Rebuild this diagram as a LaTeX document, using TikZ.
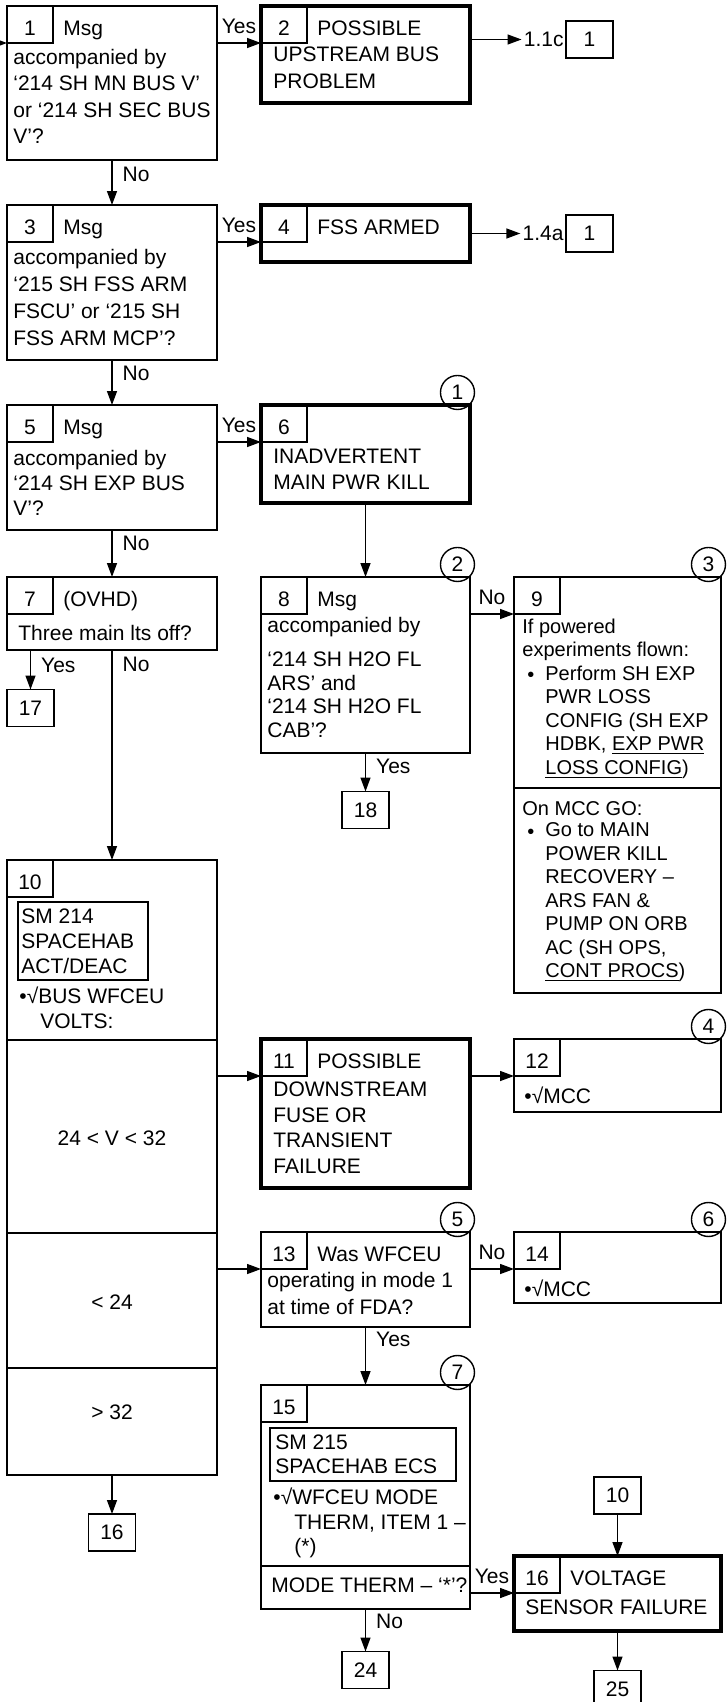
\documentclass[tikz,border=0pt]{standalone}
\usepackage{fontspec}
\setmainfont{Liberation Sans}
\usetikzlibrary{positioning, calc, arrows.meta}
\newcommand{\fsz}[1]{\fontsize{10.5pt}{#1}\selectfont}
\newcommand{\tstrut}{\rule{0pt}{8pt}}

\begin{document}
\begin{tikzpicture}[x=0.5pt, y=-0.5pt,
    every node/.style={font=\fsz{13.5pt}},
    box/.style={draw, line width=0.9pt, anchor=north west, inner sep=0, outer sep=0},
    thickbox/.style={box, line width=2.2pt},
    numbox/.style={box, minimum width=23pt, minimum height=18.5pt, text height=11pt, text depth=0pt},
    refbox/.style={draw, line width=0.9pt, inner sep=0, outer sep=0, minimum width=23.5pt, minimum height=18.5pt},
    circ/.style={circle, draw, line width=0.7pt, inner sep=0, minimum size=17pt, anchor=south east},
    txt/.style={anchor=north west, inner sep=0, align=left, execute at begin node=\tstrut},
    lbl/.style={inner sep=0},
    divider/.style={line width=0.9pt},
    arr/.style={line width=0.7pt, -{Triangle[length=7pt, width=5pt]}}]
\useasboundingbox (0,0) rectangle (727,1702);

% left column
\node[box, minimum width=105pt, minimum height=77pt] (b1) at (7,6) {};
\node[numbox] (n1) at (b1.north west) {1};
\node[lbl, anchor=base west] at ([xshift=5pt]n1.base east) {Msg};
\node[txt, font=\fsz{13.3pt}] at (13,48.5) {accompanied by\\‘214 SH MN BUS V’\\or ‘214 SH SEC BUS\\V’?};

\node[box, minimum width=105pt, minimum height=77.5pt] (b3) at (7,205) {};
\node[numbox] (n3) at (b3.north west) {3};
\node[lbl, anchor=base west] at ([xshift=5pt]n3.base east) {Msg};
\node[txt] at (13,248.5) {accompanied by\\‘215 SH FSS ARM\\FSCU’ or ‘215 SH\\FSS ARM MCP’?};

\node[box, minimum width=105pt, minimum height=62.5pt] (b5) at (7,405) {};
\node[numbox] (n5) at (b5.north west) {5};
\node[lbl, anchor=base west] at ([xshift=5pt]n5.base east) {Msg};
\node[txt, font=\fsz{12.5pt}] at (13,449.5) {accompanied by\\‘214 SH EXP BUS\\V’?};

\node[box, minimum width=105pt, minimum height=36.5pt] (b7) at (7,577) {};
\node[numbox] (n7) at (b7.north west) {7};
\node[lbl, anchor=base west] at ([xshift=5pt]n7.base east) {(OVHD)};
\node[txt] at (18,624.5) {Three main lts off?};

\node[refbox] (r17) at (30.5,708) {17};

\node[box, minimum width=105pt, minimum height=307.5pt] (b10) at (7,860) {};
\node[numbox] (n10) at (b10.north west) {10};
\node[box, minimum width=65pt, minimum height=39pt] (sm214) at (18,902) {};
\node[txt, font=\fsz{12.5pt}] at (21,908.5) {SM 214\\SPACEHAB\\ACT/DEAC};
\node[txt, font=\fsz{12.5pt}] at (19,986.5) {•√BUS WFCEU\\\hspace*{10.5pt}VOLTS:};
\draw[divider] (7,1040) -- (217,1040);
\draw[divider] (7,1233) -- (217,1233);
\draw[divider] (7,1368) -- (217,1368);
\node[lbl] at (112,1138) {24 < V < 32};
\node[lbl] at (112,1302) {< 24};
\node[lbl] at (112,1412) {> 32};

\node[refbox] (r16) at (112,1532.5) {16};

% middle column
\node[thickbox, minimum width=104.5pt, minimum height=48.5pt] (b2) at (261,6) {};
\node[numbox] (n2) at (b2.north west) {2};
\node[lbl, anchor=base west] at ([xshift=5pt]n2.base east) {POSSIBLE};
\node[txt] at (273,46.5) {UPSTREAM BUS\\PROBLEM};

\node[thickbox, minimum width=104.5pt, minimum height=28.5pt] (b4) at (261,205) {};
\node[numbox] (n4) at (b4.north west) {4};
\node[lbl, anchor=base west] at ([xshift=5pt]n4.base east) {FSS ARMED};

\node[thickbox, minimum width=104.5pt, minimum height=49pt] (b6) at (261,405) {};
\node[numbox] (n6) at (b6.north west) {6};
\node[txt, font=\fsz{13pt}] at (273,448.5) {INADVERTENT\\MAIN PWR KILL};
\node[circ] (c1) at (b6.north east) {1};

\node[box, minimum width=104.5pt, minimum height=88pt] (b8) at (261,577) {};
\node[numbox] (n8) at (b8.north west) {8};
\node[lbl, anchor=base west] at ([xshift=5pt]n8.base east) {Msg};
\node[txt] at (267,616.5) {accompanied by};
\node[txt, font=\fsz{11.75pt}] at (267,651.5) {‘214 SH H2O FL\\ARS’ and\\‘214 SH H2O FL\\CAB’?};
\node[circ] (c2) at (b8.north east) {2};

\node[refbox] (r18) at (365.5,810) {18};

\node[thickbox, minimum width=104.5pt, minimum height=74.5pt] (b11) at (261,1039) {};
\node[numbox] (n11) at (b11.north west) {11};
\node[lbl, anchor=base west] at ([xshift=5pt]n11.base east) {POSSIBLE};
\node[txt, font=\fsz{12.8pt}] at (273,1081.5) {DOWNSTREAM\\FUSE OR\\TRANSIENT\\FAILURE};

\node[box, minimum width=104.5pt, minimum height=47.5pt] (b13) at (261,1232) {};
\node[numbox] (n13) at (b13.north west) {13};
\node[lbl, anchor=base west] at ([xshift=5pt]n13.base east) {Was WFCEU};
\node[txt] at (267,1271.5) {operating in mode 1\\at time of FDA?};
\node[circ] (c5) at (b13.north east) {5};

\node[box, minimum width=104.5pt, minimum height=112pt] (b15) at (261,1385) {};
\node[numbox] (n15) at (b15.north west) {15};
\node[box, minimum width=93pt, minimum height=26.5pt] (sm215) at (270,1428) {};
\node[txt, font=\fsz{12pt}] at (275,1434.5) {SM 215\\SPACEHAB ECS};
\node[txt, font=\fsz{12.25pt}] at (273,1487.5) {•√WFCEU MODE\\\hspace*{10.5pt}THERM, ITEM 1 –\\\hspace*{10.5pt}(*)};
\draw[divider] (260,1566) -- (470,1566);
\node[lbl, anchor=west] at (271,1585) {MODE THERM – ‘*’?};
\node[circ] (c7) at (b15.north east) {7};

\node[refbox] (r24) at (365.5,1670) {24};

% right column
\node[refbox] (r1) at (589.5,39.5) {1};
\node[lbl, anchor=east, inner sep=1pt] (g1) at (r1.west) {1.1c};
\node[refbox] (r4) at (589.5,233.5) {1};
\node[lbl, anchor=east, inner sep=1pt] (g4) at (r4.west) {1.4a};

\node[box, minimum width=103.5pt, minimum height=208pt] (b9) at (514,577) {};
\node[numbox] (n9) at (b9.north west) {9};
\node[txt, font={\fontsize{10pt}{11.75pt}\selectfont}] at (522,618.5) {If powered\\experiments flown:};
\node[txt, font={\fontsize{10pt}{11.75pt}\selectfont}] at (527,665.5) {•};
\node[txt, font={\fontsize{10pt}{11.75pt}\selectfont}] at (545,665.5) {Perform SH EXP\\PWR LOSS\\CONFIG (SH EXP\\HDBK, \underline{EXP PWR}\\\underline{LOSS CONFIG})};
\draw[divider] (514,788) -- (721,788);
\node[txt, font={\fontsize{10pt}{11.75pt}\selectfont}] at (522,799.5) {On MCC GO:};
\node[txt, font={\fontsize{10pt}{11.75pt}\selectfont}] at (527,822.5) {•};
\node[txt, font={\fontsize{10pt}{11.75pt}\selectfont}] at (545,822.5) {Go to MAIN\\POWER KILL\\RECOVERY –\\ARS FAN \&\\PUMP ON ORB\\AC (SH OPS,\\\underline{CONT PROCS})};
\node[circ] (c3) at (b9.north east) {3};

\node[box, minimum width=103.5pt, minimum height=36.5pt] (b12) at (514,1039) {};
\node[numbox] (n12) at (b12.north west) {12};
\node[txt] at (524,1086.5) {•√MCC};
\node[circ] (c4) at (b12.north east) {4};

\node[box, minimum width=103.5pt, minimum height=35.5pt] (b14) at (514,1232) {};
\node[numbox] (n14) at (b14.north west) {14};
\node[txt] at (524,1279.5) {•√MCC};
\node[circ] (c6) at (b14.north east) {6};

\node[refbox] (r10) at (617.5,1495.5) {10};
\node[thickbox, minimum width=103.5pt, minimum height=37.5pt] (b16) at (514,1556) {};
\node[numbox] (n16) at (b16.north west) {16};
\node[lbl, anchor=base west] at ([xshift=5pt]n16.base east) {VOLTAGE};
\node[txt] at (525,1598.5) {SENSOR FAILURE};
\node[refbox] (r25) at (617.5,1689) {25};

% connectors
\coordinate (in1) at (-12,43);
\draw[arr] (in1) -- (in1 -| b1.west);
\draw[arr] (b1.east |- n2.south west) -- node[lbl, midway, anchor=south, yshift=4.5pt] {Yes} (n2.south west);
\draw[arr] (b2.east |- g1) -- (g1.west);
\draw[arr] (b1.south) -- node[lbl, pos=0.33, anchor=west, xshift=5pt] {No} (b3.north);
\draw[arr] (b3.east |- n4.south west) -- node[lbl, midway, anchor=south, yshift=4.5pt] {Yes} (n4.south west);
\draw[arr] (b4.east |- g4) -- (g4.west);
\draw[arr] (b3.south) -- node[lbl, pos=0.3, anchor=west, xshift=5pt] {No} (b5.north);
\draw[arr] (b5.east |- n6.south west) -- node[lbl, midway, anchor=south, yshift=4.5pt] {Yes} (n6.south west);
\draw[arr] (b5.south) -- node[lbl, pos=0.28, anchor=west, xshift=5pt] {No} (b7.north);
\draw[arr] (b6.south) -- (b8.north);
\draw[arr] (b8.east |- n9.south west) -- node[lbl, midway, anchor=south, yshift=4.5pt] {No} (n9.south west);
\draw[arr] (b7.south -| r17) -- node[lbl, pos=0.38, anchor=west, xshift=5pt] {Yes} (r17.north);
\draw[arr] (b7.south) -- node[lbl, pos=0.07, anchor=west, xshift=5pt] {No} (b10.north);
\draw[arr] (b8.south) -- node[lbl, pos=0.36, anchor=west, xshift=5pt] {Yes} (r18.north);
\draw[arr] (b10.east |- n11.south west) -- (n11.south west);
\draw[arr] (b11.east |- n12.south west) -- (n12.south west);
\draw[arr] (b10.east |- n13.south west) -- (n13.south west);
\draw[arr] (b13.east |- n14.south west) -- node[lbl, midway, anchor=south, yshift=4.5pt] {No} (n14.south west);
\draw[arr] (b13.south) -- node[lbl, pos=0.22, anchor=west, xshift=5pt] {Yes} (b15.north);
\draw[arr] (b15.east |- n16.south west) -- node[lbl, midway, anchor=south, yshift=4.5pt] {Yes} (n16.south west);
\draw[arr] (b15.south) -- node[lbl, pos=0.3, anchor=west, xshift=5pt] {No} (r24.north);
\draw[arr] (b10.south) -- (r16.north);
\draw[arr] (r10.south) -- (b16.north);
\draw[arr] (b16.south) -- (r25.north);
\end{tikzpicture}
\end{document}
